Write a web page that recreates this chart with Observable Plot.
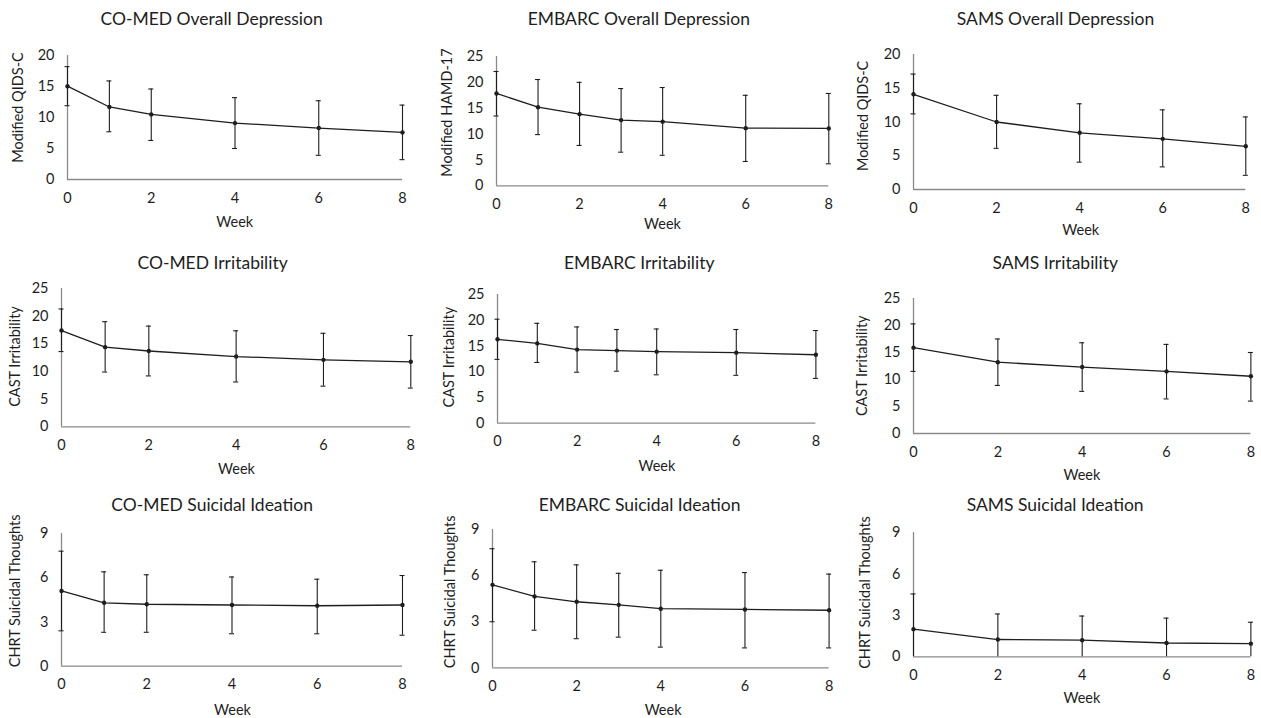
<!DOCTYPE html>
<html><head><meta charset="utf-8">
<script src="https://cdn.jsdelivr.net/npm/d3@7"></script>
<script src="https://cdn.jsdelivr.net/npm/@observablehq/plot@0.6"></script>
<style>
body{margin:0;background:#fff;}
#root{position:relative;width:1261px;height:718px;overflow:hidden;background:#fff;}
#root svg{position:absolute;overflow:visible;}
</style></head><body><div id="root"></div>
<script>
// ---- data ----
const weeksCoMed  = [0, 1, 2, 4, 6, 8];
const weeksEmbarc = [0, 1, 2, 3, 4, 6, 8];
const weeksSams   = [0, 2, 4, 6, 8];
const weekTicks = [0, 2, 4, 6, 8];

const titles = [
  "CO-MED Overall Depression", "EMBARC Overall Depression", "SAMS Overall Depression",
  "CO-MED Irritability", "EMBARC Irritability", "SAMS Irritability",
  "CO-MED Suicidal Ideation", "EMBARC Suicidal Ideation", "SAMS Suicidal Ideation"
];
const yLabels = [
  "Modified QIDS-C", "Modified HAMD-17", "Modified QIDS-C",
  "CAST Irritability", "CAST Irritability", "CAST Irritability",
  "CHRT Suicidal Thoughts", "CHRT Suicidal Thoughts", "CHRT Suicidal Thoughts"
];
const xLabel = "Week";
const yTicksDep1 = [0, 5, 10, 15, 20];
const yTicksDep2 = [0, 5, 10, 15, 20, 25];
const yTicksIrr  = [0, 5, 10, 15, 20, 25];
const yTicksSui  = [0, 3, 6, 9];

// CO-MED Overall Depression
const coMedDepMean  = [15.05, 11.7, 10.5, 9.1, 8.3, 7.6];
const coMedDepUpper = [18.2, 15.9, 14.6, 13.2, 12.7, 12.0];
const coMedDepLower = [11.9, 7.7, 6.3, 5.0, 3.9, 3.2];
// EMBARC Overall Depression
const embarcDepMean  = [17.85, 15.2, 13.85, 12.7, 12.4, 11.15, 11.1];
const embarcDepUpper = [22.1, 20.55, 20.0, 18.8, 19.0, 17.5, 17.85];
const embarcDepLower = [13.5, 9.9, 7.8, 6.5, 5.9, 4.7, 4.25];
// SAMS Overall Depression
const samsDepMean  = [14.1, 10.0, 8.4, 7.5, 6.4];
const samsDepUpper = [17.1, 13.95, 12.7, 11.8, 10.75];
const samsDepLower = [11.2, 6.1, 4.05, 3.35, 2.1];
// CO-MED Irritability
const coMedIrrMean  = [17.4, 14.4, 13.7, 12.7, 12.1, 11.75];
const coMedIrrUpper = [21.3, 19.0, 18.2, 17.35, 16.9, 16.5];
const coMedIrrLower = [13.6, 9.9, 9.2, 8.1, 7.35, 7.0];
// EMBARC Irritability
const embarcIrrMean  = [16.3, 15.5, 14.3, 14.1, 13.9, 13.7, 13.3];
const embarcIrrUpper = [20.2, 19.4, 18.7, 18.2, 18.3, 18.2, 18.0];
const embarcIrrLower = [12.4, 11.8, 9.9, 10.1, 9.4, 9.3, 8.7];
// SAMS Irritability
const samsIrrMean  = [15.9, 13.2, 12.3, 11.5, 10.6];
const samsIrrUpper = [20.3, 17.5, 16.8, 16.5, 15.0];
const samsIrrLower = [11.5, 8.9, 7.8, 6.4, 6.0];
// CO-MED Suicidal Ideation
const coMedSuiMean  = [5.1, 4.3, 4.2, 4.15, 4.1, 4.15];
const coMedSuiUpper = [7.8, 6.4, 6.2, 6.05, 5.9, 6.15];
const coMedSuiLower = [2.4, 2.3, 2.3, 2.2, 2.2, 2.1];
// EMBARC Suicidal Ideation
const embarcSuiMean  = [5.4, 4.65, 4.3, 4.1, 3.85, 3.8, 3.75];
const embarcSuiUpper = [7.75, 6.9, 6.7, 6.15, 6.35, 6.2, 6.1];
const embarcSuiLower = [3.0, 2.45, 1.9, 2.0, 1.35, 1.3, 1.3];
// SAMS Suicidal Ideation
const samsSuiMean  = [2.0, 1.25, 1.2, 1.0, 0.95];
const samsSuiUpper = [4.55, 3.1, 2.95, 2.8, 2.5];
const samsSuiLower = [0, 0, 0, 0, 0];

// ---- layout (pixel frames of each panel) ----
const series = [
  [weeksCoMed, coMedDepMean, coMedDepUpper, coMedDepLower, yTicksDep1],
  [weeksEmbarc, embarcDepMean, embarcDepUpper, embarcDepLower, yTicksDep2],
  [weeksSams, samsDepMean, samsDepUpper, samsDepLower, yTicksDep1],
  [weeksCoMed, coMedIrrMean, coMedIrrUpper, coMedIrrLower, yTicksIrr],
  [weeksEmbarc, embarcIrrMean, embarcIrrUpper, embarcIrrLower, yTicksIrr],
  [weeksSams, samsIrrMean, samsIrrUpper, samsIrrLower, yTicksIrr],
  [weeksCoMed, coMedSuiMean, coMedSuiUpper, coMedSuiLower, yTicksSui],
  [weeksEmbarc, embarcSuiMean, embarcSuiUpper, embarcSuiLower, yTicksSui],
  [weeksSams, samsSuiMean, samsSuiUpper, samsSuiLower, yTicksSui]
];
// [x0, x8, yTop, y0, titleX, titleY, yLabX, yLabY, weekX, weekY]
const frames = [
  [66.7, 401.7, 55, 179, 210.8, 19, 18, 107, 234, 222],
  [496, 828.3, 55.7, 185, 638.3, 19, 447, 111.7, 662, 224],
  [912.7, 1245, 54.3, 189.3, 1054.7, 19, 862.7, 115.7, 1080, 230],
  [60.7, 410, 287.7, 426, 211.8, 262.7, 15, 355.7, 235.7, 469],
  [497.3, 815.7, 294, 422.7, 639, 262.7, 449.3, 356.7, 656.7, 466],
  [913.3, 1250.7, 297.7, 432.7, 1055, 262.7, 861.7, 365, 1081.7, 475],
  [60.7, 401.7, 533.3, 666, 211.3, 505, 15, 590.7, 231.7, 710],
  [491.7, 828.3, 529.3, 667.7, 638.8, 505, 449.3, 591.7, 662.3, 710],
  [913.3, 1250.7, 531.7, 656, 1055, 505, 865, 591.7, 1081.7, 698]
];

const FONT = "Lato, 'Open Sans', sans-serif";
const INK = "#1e1e1e";
const AXIS = "#8a8a8a";
const root = document.getElementById("root");

series.forEach(([weeks, mean, upper, lower, yTicks], i) => {
  const [x0, x8, yTop, y0, tx, ty, lx, ly, wx, wy] = frames[i];
  const ml = 70, mr = 15, mt = 50, mb = 55;
  const yMax = yTicks[yTicks.length - 1];
  const rows = weeks.map((w, j) => ({week: w, mean: mean[j], upper: upper[j], lower: lower[j]}));
  const cx = (x0 + x8) / 2, cy = (yTop + y0) / 2;
  const svg = Plot.plot({
    width: (x8 - x0) + ml + mr,
    height: (y0 - yTop) + mt + mb,
    marginLeft: ml, marginRight: mr, marginTop: mt, marginBottom: mb,
    style: {fontFamily: FONT, fontSize: "14.5px", color: INK, background: "transparent", overflow: "visible"},
    x: {domain: [0, 8], ticks: weekTicks, tickSize: 0, tickPadding: 13, label: null},
    y: {domain: [0, yMax], ticks: yTicks, tickSize: 0, tickPadding: 13, label: null},
    marks: [
      Plot.ruleX([0], {stroke: AXIS, strokeWidth: 1.3}),
      Plot.ruleY([0], {stroke: AXIS, strokeWidth: 1.3}),
      Plot.ruleX(rows, {x: "week", y1: "lower", y2: "upper", stroke: INK, strokeWidth: 1.1}),
      Plot.ruleY(rows, {x1: "week", x2: "week", y: "upper", insetLeft: -2.5, insetRight: -2.5, stroke: INK, strokeWidth: 1.1}),
      Plot.ruleY(rows.filter(d => d.lower > 0), {x1: "week", x2: "week", y: "lower", insetLeft: -2.5, insetRight: -2.5, stroke: INK, strokeWidth: 1.1}),
      Plot.line(rows, {x: "week", y: "mean", stroke: INK, strokeWidth: 1.3}),
      Plot.dot(rows, {x: "week", y: "mean", r: 2.2, fill: INK, stroke: "none"}),
      Plot.text([titles[i]], {text: d => d, frameAnchor: "top", textAnchor: "middle", dx: tx - cx, dy: ty - yTop, lineAnchor: "middle", fontSize: 17.5, fill: INK}),
      Plot.text([yLabels[i]], {text: d => d, frameAnchor: "left", textAnchor: "middle", rotate: -90, dx: lx - x0, dy: ly - cy, lineAnchor: "middle", fontSize: 14.5, fill: INK}),
      Plot.text([xLabel], {text: d => d, frameAnchor: "bottom", textAnchor: "middle", dx: wx - cx, dy: wy - y0, lineAnchor: "middle", fontSize: 14.5, fill: INK})
    ]
  });
  svg.style.left = (x0 - ml) + "px";
  svg.style.top = (yTop - mt) + "px";
  root.appendChild(svg);
});
</script>
</body></html>
